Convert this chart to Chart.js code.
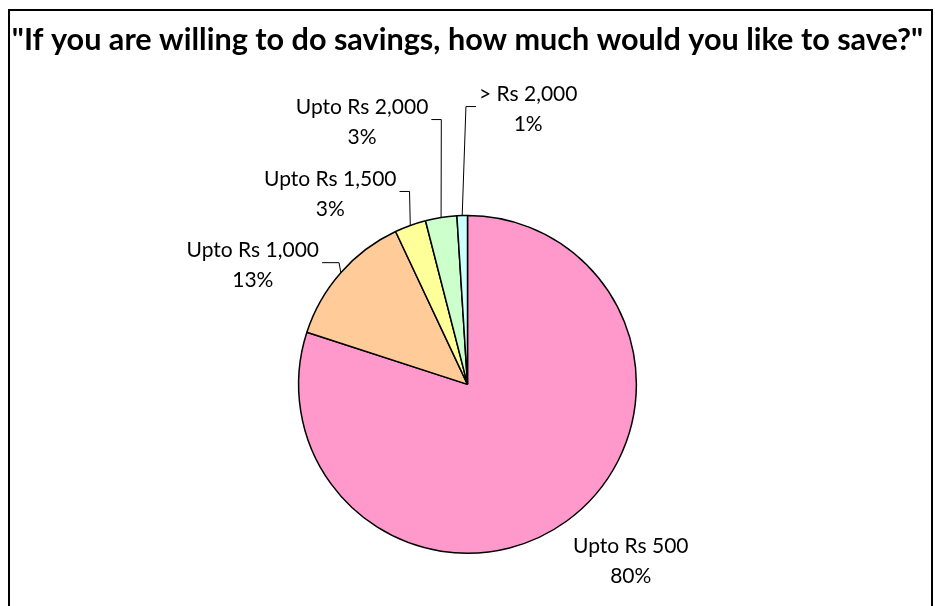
<!DOCTYPE html>
<html>
<head>
<meta charset="utf-8">
<title>Savings preference</title>
<script src="https://cdn.jsdelivr.net/npm/chart.js@4.4.0/dist/chart.umd.min.js"></script>
<style>
  html, body { margin: 0; padding: 0; background: #fff; }
  #chart { display: block; }
</style>
</head>
<body>
<canvas id="chart" width="935" height="606"></canvas>
<script>
// ---- data ----
const categories = ['Upto Rs 500', 'Upto Rs 1,000', 'Upto Rs 1,500', 'Upto Rs 2,000', '> Rs 2,000'];
const shares = [80, 13, 3, 3, 1];
const sliceColors = ['#FF99CC', '#FFCC99', '#FFFF99', '#CCFFCC', '#CCFFFF'];
const chartTitle = '"If you are willing to do savings, how much would you like to save?"';

// where each label sits, relative to the outer midpoint of its slice
const labelPlacement = [
    { dx: 64, dy: 40, leader: false },
    { dx: -88, dy: -7, leader: true, tail: 17 },
    { dx: -80, dy: -31, leader: true, tail: 10 },
    { dx: -79, dy: -95, leader: true, tail: 10 },
    { dx: 66, dy: -106, leader: true, tail: 10 }
];

// chart frame (open at the bottom of the canvas)
const framePlugin = {
    id: 'frame',
    beforeDraw(chart) {
        const ctx = chart.ctx;
        ctx.save();
        ctx.fillStyle = '#fff';
        ctx.fillRect(0, 0, chart.width, chart.height);
        ctx.strokeStyle = '#000';
        ctx.lineWidth = 2;
        ctx.strokeRect(9, 10, 923, 700);
        ctx.restore();
    }
};

// category + percent labels with leader lines
const sliceLabelPlugin = {
    id: 'sliceLabels',
    afterDatasetsDraw(chart, args, opts) {
        const ctx = chart.ctx;
        const meta = chart.getDatasetMeta(0);
        const total = shares.reduce((a, b) => a + b, 0);

        ctx.save();
        ctx.font = opts.font;
        ctx.fillStyle = '#000';
        ctx.strokeStyle = '#000';
        ctx.lineWidth = 1;
        ctx.textAlign = 'center';
        ctx.textBaseline = 'middle';

        meta.data.forEach((arc, i) => {
            const p = arc.getProps(['x', 'y', 'startAngle', 'endAngle', 'outerRadius'], true);
            const mid = (p.startAngle + p.endAngle) / 2;
            const ax = p.x + Math.cos(mid) * p.outerRadius;
            const ay = p.y + Math.sin(mid) * p.outerRadius;
            const place = labelPlacement[i];
            const cx = ax + place.dx;
            const cy = ay + place.dy;

            const lines = [categories[i], Math.round(shares[i] / total * 100) + '%'];
            const w = Math.max(...lines.map(t => ctx.measureText(t).width));
            lines.forEach((t, k) => ctx.fillText(t, cx, cy + (k - 0.5) * opts.lineHeight));

            if (place.leader) {
                const side = cx < ax ? 1 : -1;
                const x0 = cx + side * (w / 2 + 3);
                const x1 = x0 + side * place.tail;
                const ly = cy - 3;
                ctx.beginPath();
                ctx.moveTo(x0, ly);
                ctx.lineTo(x1, ly);
                ctx.lineTo(ax, ay);
                ctx.stroke();
            }
        });
        ctx.restore();
    }
};

const ctx = document.getElementById('chart');

new Chart(ctx, {
    type: 'pie',
    data: {
        labels: categories,
        datasets: [{
            data: shares,
            backgroundColor: sliceColors,
            borderColor: '#000',
            borderWidth: 1.5,
            hoverBorderWidth: 1.5,
            hoverOffset: 0
        }]
    },
    options: {
        responsive: false,
        animation: false,
        devicePixelRatio: 1,
        events: [],
        layout: {
            padding: { top: 0, left: 0, right: 0, bottom: 52 }
        },
        plugins: {
            legend: { display: false },
            tooltip: { enabled: false },
            title: {
                display: true,
                text: chartTitle,
                color: '#000',
                font: { family: 'Lato', size: 30.6, weight: 'bold', lineHeight: 1.2 },
                padding: { top: 22, bottom: 156 }
            },
            sliceLabels: {
                font: '21px Lato',
                lineHeight: 30
            }
        }
    },
    plugins: [framePlugin, sliceLabelPlugin]
});
</script>
</body>
</html>
